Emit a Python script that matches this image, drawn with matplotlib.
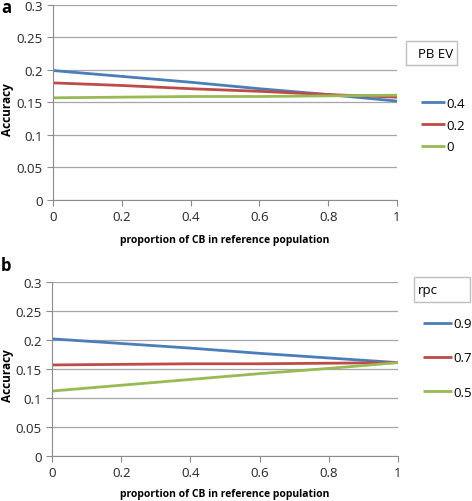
import numpy as np
import matplotlib.pyplot as plt
from matplotlib.patches import Rectangle

plt.rcParams['font.family'] = ['Open Sans', 'DejaVu Sans']

x = [0, 0.2, 0.4, 0.6, 0.8, 1.0]

# panel a: PB EV
a_labels = ['0.4', '0.2', '0']
a_04 = [0.199, 0.190, 0.181, 0.171, 0.162, 0.152]
a_02 = [0.180, 0.176, 0.171, 0.167, 0.162, 0.158]
a_00 = [0.157, 0.158, 0.159, 0.159, 0.160, 0.161]

# panel b: rpc
b_labels = ['0.9', '0.7', '0.5']
b_09 = [0.202, 0.194, 0.186, 0.177, 0.169, 0.161]
b_07 = [0.157, 0.158, 0.159, 0.159, 0.160, 0.161]
b_05 = [0.112, 0.122, 0.132, 0.142, 0.151, 0.161]

colors = ['#4a7ebb', '#be4b48', '#98b954']
W, H = 472, 502

fig = plt.figure(figsize=(W / 100, H / 100), dpi=100)


def panel(rect, series, labels, title, tbox, leg_xy, spacing, hlen, xpad,
          letter, letter_y):
    l, t, r, b = rect
    ax = fig.add_axes([l / W, 1 - b / H, (r - l) / W, (b - t) / H])
    for ys, c, lab in zip(series, colors, labels):
        ax.plot(x, ys, color=c, lw=2, label=lab, solid_capstyle='butt')
    ax.set_xlim(0, 1)
    ax.set_ylim(0, 0.3)
    ax.set_xticks(np.arange(0, 1.01, 0.2))
    ax.set_xticklabels(['0', '0.2', '0.4', '0.6', '0.8', '1'])
    ax.set_yticks(np.arange(0, 0.301, 0.05))
    ax.set_yticklabels(['0', '0.05', '0.1', '0.15', '0.2', '0.25', '0.3'])
    ax.yaxis.grid(True, color='#a6a6a6', lw=0.9)
    ax.set_axisbelow(True)
    for s in ['top', 'right']:
        ax.spines[s].set_visible(False)
    for s in ['left', 'bottom']:
        ax.spines[s].set_color('#8c8c8c')
    ax.tick_params(colors='#8c8c8c', labelcolor='#262626', labelsize=9.5,
                   length=4, direction='out')
    ax.set_xlabel('proportion of CB in reference population', fontsize=7.5,
                  fontweight='bold', labelpad=xpad)
    ax.set_ylabel('Accuracy', fontsize=8.5, fontweight='bold')
    ax.yaxis.set_label_coords((14 - l) / (r - l), 0.47)
    ax.legend(loc='center left', bbox_to_anchor=(leg_xy[0] / W, 1 - leg_xy[1] / H),
              bbox_transform=fig.transFigure, frameon=False, fontsize=9.5,
              handlelength=hlen, handletextpad=0.1, labelspacing=spacing,
              borderpad=0, borderaxespad=0)
    x0, y0, x1, y1 = tbox
    fig.patches.append(Rectangle((x0 / W, 1 - y1 / H), (x1 - x0) / W, (y1 - y0) / H,
                                 transform=fig.transFigure, fc='white',
                                 ec='#bfbfbf', lw=1))
    fig.text(418 / W, 1 - (y0 + y1) / 2 / H, title, fontsize=9.5, va='center',
             ha='left')
    fig.text(1 / W, 1 - letter_y / H, letter, fontsize=12, fontweight='bold',
             va='center', ha='left')
    return ax


panel((53, 6, 397, 200.7), [a_04, a_02, a_00], a_labels, 'PB EV',
      (406, 42, 457, 66), (421, 126), 0.67, 1.8, 8, 'a', 8)
panel((52, 283, 398, 457), [b_09, b_07, b_05], b_labels, 'rpc',
      (414, 278, 470, 303), (423, 359), 1.6, 2.2, 6, 'b', 266)

fig.savefig('out.png', dpi=100)
